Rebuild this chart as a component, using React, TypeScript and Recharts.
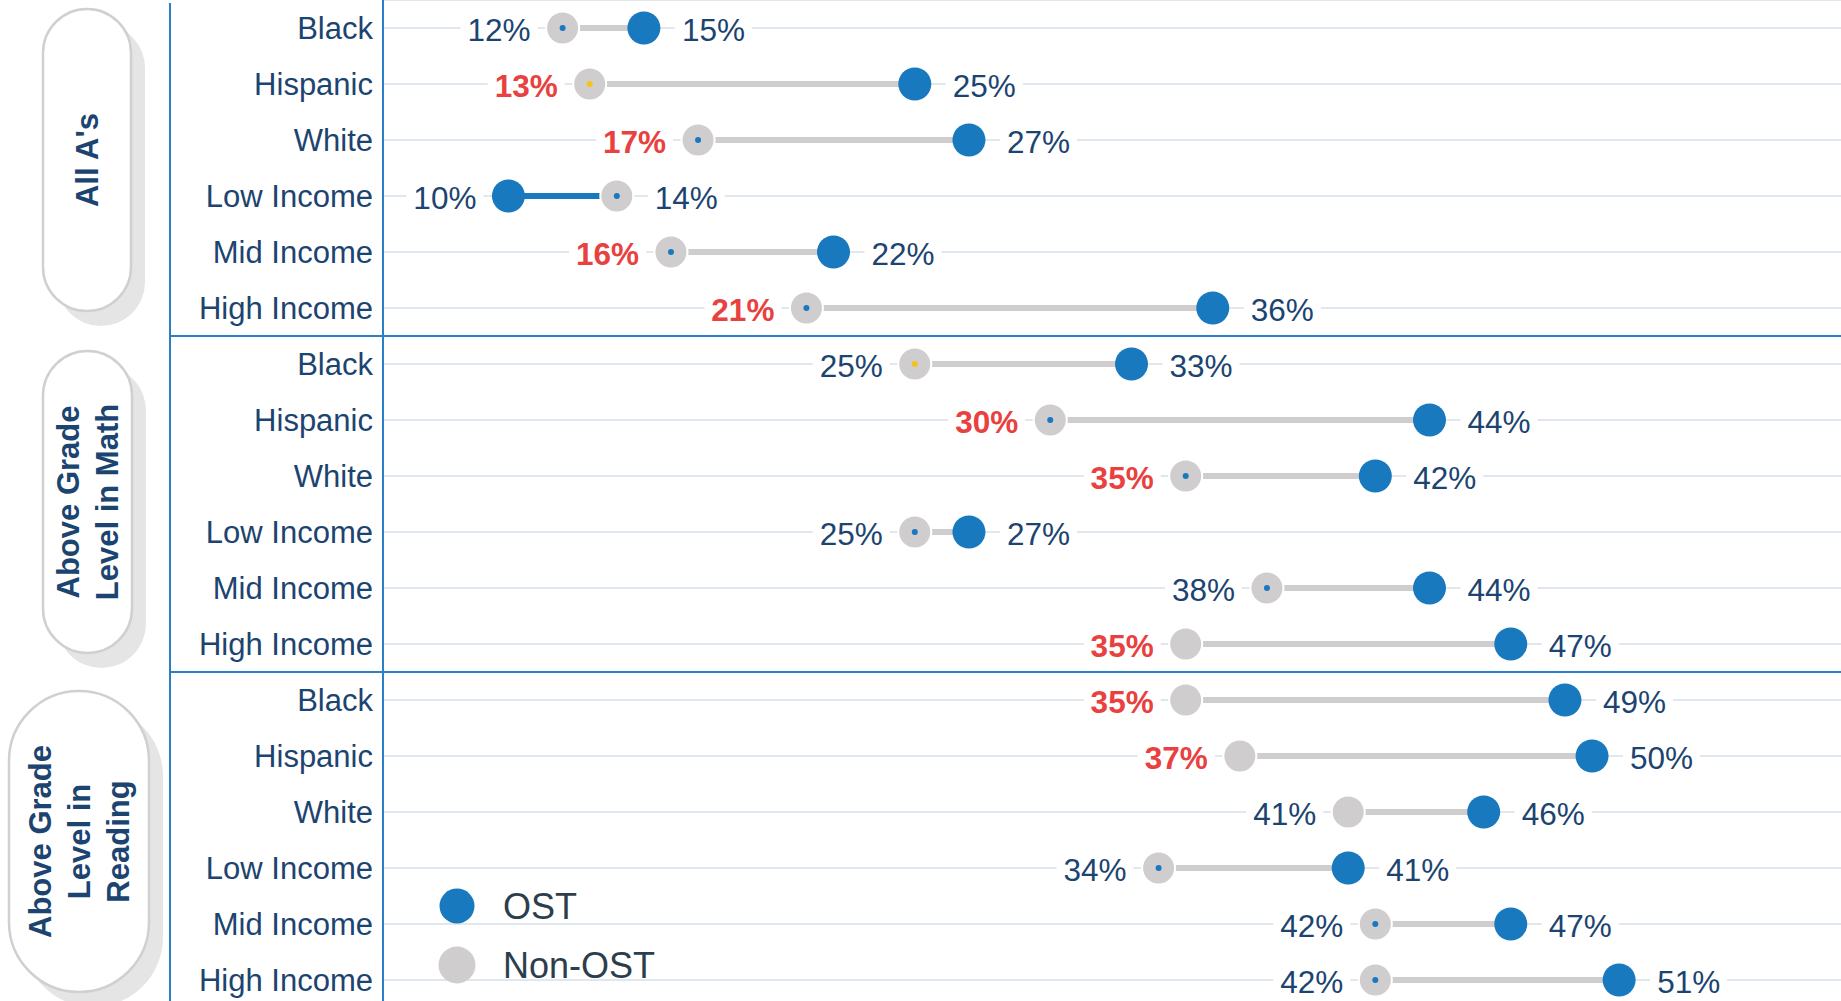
import { Bar, CartesianGrid, Cell, ComposedChart, Line, XAxis, YAxis } from 'recharts'

const FONT = '"Liberation Sans", Arial, Helvetica, sans-serif'
const BLUE = '#1879be'
const GRAY = '#cfcdce'
const NAVY = '#1c4470'
const RED = '#e8413f'
const YELLOW = '#f6c21c'
const RULE = '#2a7fc8'
const GRID = '#e1e7ee'

const groups = ['Black', 'Hispanic', 'White', 'Low Income', 'Mid Income', 'High Income']
const seriesNames = ['OST', 'Non-OST']

// All A's
const allAsOst = [15, 25, 27, 10, 22, 36]
const allAsNon = [12, 13, 17, 14, 16, 21]
const allAsSig = [false, true, true, false, true, true]
const allAsMark = ['blue', 'yellow', 'blue', 'blue', 'blue', 'blue']

// Above grade level in math
const mathOst = [33, 44, 42, 27, 44, 47]
const mathNon = [25, 30, 35, 25, 38, 35]
const mathSig = [false, true, true, false, false, true]
const mathMark = ['yellow', 'blue', 'blue', 'blue', 'blue', 'none']

// Above grade level in reading
const readingOst = [49, 50, 46, 41, 47, 51]
const readingNon = [35, 37, 41, 34, 42, 42]
const readingSig = [true, true, false, false, false, false]
const readingMark = ['none', 'none', 'none', 'blue', 'blue', 'blue']

const xDomain: [number, number] = [5.37, 59.19]

type Row = {
  name: string
  ost: number
  non: number
  range: [number, number]
  sig: boolean
  mark: string
}

function buildRows(ost: number[], non: number[], sig: boolean[], mark: string[]): Row[] {
  return groups.map((name, i) => ({
    name,
    ost: ost[i],
    non: non[i],
    range: [Math.min(ost[i], non[i]), Math.max(ost[i], non[i])],
    sig: sig[i],
    mark: mark[i],
  }))
}

const panels = [
  { title: ["All A's"], rows: buildRows(allAsOst, allAsNon, allAsSig, allAsMark) },
  { title: ['Above Grade', 'Level in Math'], rows: buildRows(mathOst, mathNon, mathSig, mathMark) },
  { title: ['Above Grade', 'Level in', 'Reading'], rows: buildRows(readingOst, readingNon, readingSig, readingMark) },
]

const W = 1841
const PANEL_H = 336

// pill boxes on the left, one per panel
const pills = [
  { x: 43, y: 9, w: 88, h: 302 },
  { x: 43, y: 351, w: 89, h: 302 },
  { x: 9, y: 691, w: 140, h: 301 },
]

function makeDot(kind: 'ost' | 'non') {
  return (props: any) => {
    const { cx, cy, payload, index } = props
    const key = `${kind}-${index}`
    if (cx == null || cy == null) return <g key={key} />
    const value: number = payload[kind]
    const other: number = kind === 'ost' ? payload.non : payload.ost
    const left = value < other
    const strong = kind === 'non' && payload.sig
    const tx = left ? cx - 32 : cx + 38
    const tw = 63
    const bx = left ? tx - tw - 7 : tx - 7
    return (
      <g key={key}>
        <rect x={bx} y={cy - 15} width={tw + 14} height={30} fill="#fff" />
        <text
          x={tx}
          y={cy + 2}
          textAnchor={left ? 'end' : 'start'}
          dominantBaseline="central"
          fontSize={31.5}
          fontWeight={strong ? 700 : 400}
          fill={strong ? RED : NAVY}
          fontFamily={FONT}
        >
          {value}%
        </text>
        {kind === 'ost' ? (
          <circle cx={cx} cy={cy} r={16.5} fill={BLUE} />
        ) : (
          <>
            <circle cx={cx} cy={cy} r={16.5} fill={GRAY} stroke="#fff" strokeWidth={2} />
            {payload.mark !== 'none' && (
              <circle cx={cx} cy={cy} r={3} fill={payload.mark === 'yellow' ? YELLOW : BLUE} />
            )}
          </>
        )}
      </g>
    )
  }
}

function Panel({ rows }: { rows: Row[] }) {
  return (
    <ComposedChart
      width={W}
      height={PANEL_H}
      data={rows}
      layout="vertical"
      margin={{ top: 0, right: 0, bottom: 0, left: 0 }}
    >
      <CartesianGrid vertical={false} stroke={GRID} strokeWidth={2} />
      <XAxis type="number" domain={xDomain} allowDataOverflow hide />
      <YAxis
        type="category"
        dataKey="name"
        width={383}
        axisLine={{ stroke: RULE, strokeWidth: 2 }}
        tickLine={false}
        tickSize={0}
        tickMargin={10}
        tick={{ fill: NAVY, fontSize: 31, fontFamily: FONT }}
        interval={0}
      />
      <Bar dataKey="range" barSize={6} isAnimationActive={false}>
        {rows.map((r, i) => (
          <Cell key={i} fill={r.ost < r.non ? BLUE : GRAY} />
        ))}
      </Bar>
      <Line
        dataKey="non"
        stroke="none"
        dot={makeDot('non')}
        activeDot={false}
        isAnimationActive={false}
      />
      <Line
        dataKey="ost"
        stroke="none"
        dot={makeDot('ost')}
        activeDot={false}
        isAnimationActive={false}
      />
    </ComposedChart>
  )
}

export default function App() {
  return (
    <div
      style={{
        position: 'relative',
        width: W,
        height: 1001,
        overflow: 'hidden',
        background: '#fff',
        fontFamily: FONT,
      }}
    >
      <style>{'body{margin:0}'}</style>
      {panels.map((p, i) => (
        <div key={i} style={{ position: 'absolute', left: 0, top: i * PANEL_H }}>
          <Panel rows={p.rows} />
        </div>
      ))}
      <svg
        width={W}
        height={1001}
        style={{ position: 'absolute', left: 0, top: 0, pointerEvents: 'none' }}
      >
        <line x1={170} y1={3} x2={170} y2={1001} stroke={RULE} strokeWidth={2} />
        <line x1={170} y1={PANEL_H} x2={W} y2={PANEL_H} stroke={RULE} strokeWidth={2} />
        <line x1={170} y1={PANEL_H * 2} x2={W} y2={PANEL_H * 2} stroke={RULE} strokeWidth={2} />
        {pills.map((b, i) => (
          <rect
            key={`s${i}`}
            x={b.x + 14}
            y={b.y + 15}
            width={b.w}
            height={b.h}
            rx={b.w / 2}
            fill="#e5e5e5"
          />
        ))}
        {pills.map((b, i) => {
          const lines = panels[i].title
          const cx = b.x + b.w / 2
          const cy = b.y + b.h / 2
          return (
            <g key={`p${i}`}>
              <rect
                x={b.x}
                y={b.y}
                width={b.w}
                height={b.h}
                rx={b.w / 2}
                fill="#fff"
                stroke="#d0d0d0"
                strokeWidth={2.5}
              />
              <text
                transform={`translate(${cx},${cy}) rotate(-90)`}
                textAnchor="middle"
                fontSize={31}
                fontWeight={700}
                fill={NAVY}
                fontFamily={FONT}
              >
                {lines.map((t, j) => (
                  <tspan key={j} x={0} y={(j - (lines.length - 1) / 2) * 39} dominantBaseline="central">
                    {t}
                  </tspan>
                ))}
              </text>
            </g>
          )
        })}
        {seriesNames.map((name, i) => (
          <g key={name}>
            <circle cx={457} cy={906 + i * 59} r={i === 0 ? 17.5 : 18.5} fill={i === 0 ? BLUE : GRAY} />
            <text
              x={503}
              y={906 + i * 59}
              dominantBaseline="central"
              fontSize={36}
              fill="#2c3e4c"
              fontFamily={FONT}
            >
              {name}
            </text>
          </g>
        ))}
      </svg>
    </div>
  )
}
